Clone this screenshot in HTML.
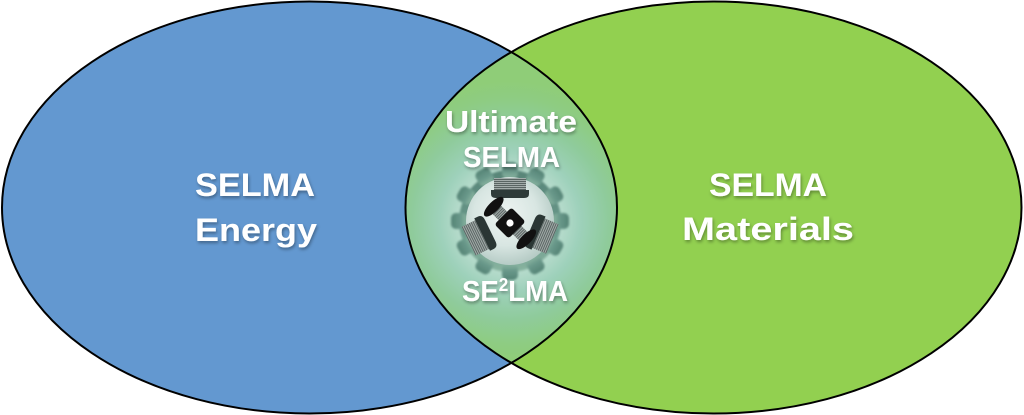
<!DOCTYPE html>
<html>
<head>
<meta charset="utf-8">
<style>
  html, body { margin:0; padding:0; background:#ffffff; }
  body { width:1024px; height:415px; overflow:hidden; }
  svg { display:block; }
  .t { font-family:"Liberation Sans", Arial, sans-serif; font-weight:bold; fill:#ffffff; }
</style>
</head>
<body>
<svg width="1024" height="415" viewBox="0 0 1024 415" xmlns="http://www.w3.org/2000/svg">
  <defs>
    <clipPath id="blueClip">
      <ellipse cx="309.5" cy="207.5" rx="307.5" ry="206"/>
    </clipPath>
    <radialGradient id="glow" gradientUnits="userSpaceOnUse" cx="510" cy="221" r="140">
      <stop offset="0" stop-color="#e4f0ec"/>
      <stop offset="0.3" stop-color="#c2e0d4"/>
      <stop offset="0.5" stop-color="#9ed1bb"/>
      <stop offset="0.7" stop-color="#8fcb9c"/>
      <stop offset="0.88" stop-color="#8ecc82"/>
      <stop offset="1" stop-color="#8fcd78"/>
    </radialGradient>
    <linearGradient id="gearGrad" x1="0" y1="0" x2="0" y2="1">
      <stop offset="0" stop-color="#467568"/>
      <stop offset="0.6" stop-color="#5d8e80"/>
      <stop offset="1" stop-color="#80ad98"/>
    </linearGradient>
    <radialGradient id="disk" cx="0.45" cy="0.42" r="0.6">
      <stop offset="0" stop-color="#eef4f2"/>
      <stop offset="0.6" stop-color="#d8e6e2"/>
      <stop offset="1" stop-color="#b3c9c3"/>
    </radialGradient>
    <pattern id="hatch" width="4" height="2" patternUnits="userSpaceOnUse">
      <rect width="4" height="2" fill="#a3acaa"/>
      <rect width="4" height="1" fill="#5a6563"/>
    </pattern>
    <filter id="soft" x="-20%" y="-20%" width="140%" height="140%">
      <feGaussianBlur stdDeviation="1.1"/>
    </filter>
    <filter id="ts" x="-10%" y="-30%" width="120%" height="160%">
      <feDropShadow dx="1" dy="2" stdDeviation="1.5" flood-color="#000" flood-opacity="0.35"/>
    </filter>
    <rect id="tooth" x="-8" y="-59" width="16" height="16" rx="5"/>
  </defs>

  <!-- Blue ellipse -->
  <ellipse cx="309.5" cy="207.5" rx="307.5" ry="206" fill="#6398d0"/>
  <!-- Green ellipse -->
  <ellipse cx="713.5" cy="207.5" rx="308" ry="206" fill="#92d050"/>
  <!-- Intersection -->
  <ellipse cx="713.5" cy="207.5" rx="308" ry="206" fill="url(#glow)" clip-path="url(#blueClip)"/>

  <!-- Gear -->
  <g transform="translate(510,221)" filter="url(#soft)" fill="url(#gearGrad)" opacity="0.85">
    <g>
      <circle r="51"/>
      <use href="#tooth" transform="rotate(0)"/>
      <use href="#tooth" transform="rotate(30)"/>
      <use href="#tooth" transform="rotate(60)"/>
      <use href="#tooth" transform="rotate(90)"/>
      <use href="#tooth" transform="rotate(120)"/>
      <use href="#tooth" transform="rotate(150)"/>
      <use href="#tooth" transform="rotate(180)"/>
      <use href="#tooth" transform="rotate(210)"/>
      <use href="#tooth" transform="rotate(240)"/>
      <use href="#tooth" transform="rotate(270)"/>
      <use href="#tooth" transform="rotate(300)"/>
      <use href="#tooth" transform="rotate(330)"/>
    </g>
  </g>
  <g transform="translate(510,221)">
    <circle r="44" fill="url(#disk)"/>
    <!-- coils -->
    <g transform="rotate(0)">
      <rect x="-16" y="-43" width="32" height="12" fill="url(#hatch)"/>
      <path d="M-19,-31 H19 V-27 Q19,-23 14,-23 H-14 Q-19,-23 -19,-27 Z" fill="#2e3b39"/>
    </g>
    <g transform="rotate(-116)">
      <rect x="-16" y="-46" width="32" height="15" fill="url(#hatch)"/>
      <path d="M-18,-31 H18 V-27 Q18,-22 12,-22 H-12 Q-18,-22 -18,-27 Z" fill="#2a3634"/>
    </g>
    <g transform="rotate(113)">
      <rect x="-16" y="-46" width="32" height="15" fill="url(#hatch)"/>
      <path d="M-18,-31 H18 V-27 Q18,-22 12,-22 H-12 Q-18,-22 -18,-27 Z" fill="#2a3634"/>
    </g>
    <!-- rotor -->
    <g transform="translate(0,2) rotate(-45)">
      <rect x="-6" y="-20" width="12" height="11" fill="url(#hatch)"/>
      <rect x="-6" y="9" width="12" height="11" fill="url(#hatch)"/>
      <ellipse cx="0" cy="-23" rx="13" ry="5" fill="#111"/>
      <ellipse cx="0" cy="23" rx="13" ry="5" fill="#111"/>
      <rect x="-12" y="-10" width="24" height="20" rx="3" fill="#111"/>
      <circle r="3.6" fill="#ffffff"/>
    </g>
  </g>

  <!-- Outlines -->
  <ellipse cx="309.5" cy="207.5" rx="307.5" ry="206" fill="none" stroke="#000" stroke-width="2"/>
  <ellipse cx="713.5" cy="207.5" rx="308" ry="206" fill="none" stroke="#000" stroke-width="2"/>

  <!-- Text -->
  <g filter="url(#ts)">
    <text class="t" x="195" y="196" font-size="32" textLength="120" lengthAdjust="spacingAndGlyphs">SELMA</text>
    <text class="t" x="195" y="241" font-size="32" textLength="122" lengthAdjust="spacingAndGlyphs">Energy</text>

    <text class="t" x="709" y="196" font-size="32" textLength="118" lengthAdjust="spacingAndGlyphs">SELMA</text>
    <text class="t" x="682" y="240" font-size="32" textLength="172" lengthAdjust="spacingAndGlyphs">Materials</text>

    <text class="t" x="445" y="132" font-size="31" textLength="132" lengthAdjust="spacingAndGlyphs">Ultimate</text>
    <text class="t" x="463" y="167" font-size="29" textLength="97" lengthAdjust="spacingAndGlyphs">SELMA</text>
    <text class="t" x="462" y="301" font-size="29" textLength="106" lengthAdjust="spacingAndGlyphs">SE<tspan font-size="18" dy="-10">2</tspan><tspan dy="10">LMA</tspan></text>
  </g>
</svg>
</body>
</html>
